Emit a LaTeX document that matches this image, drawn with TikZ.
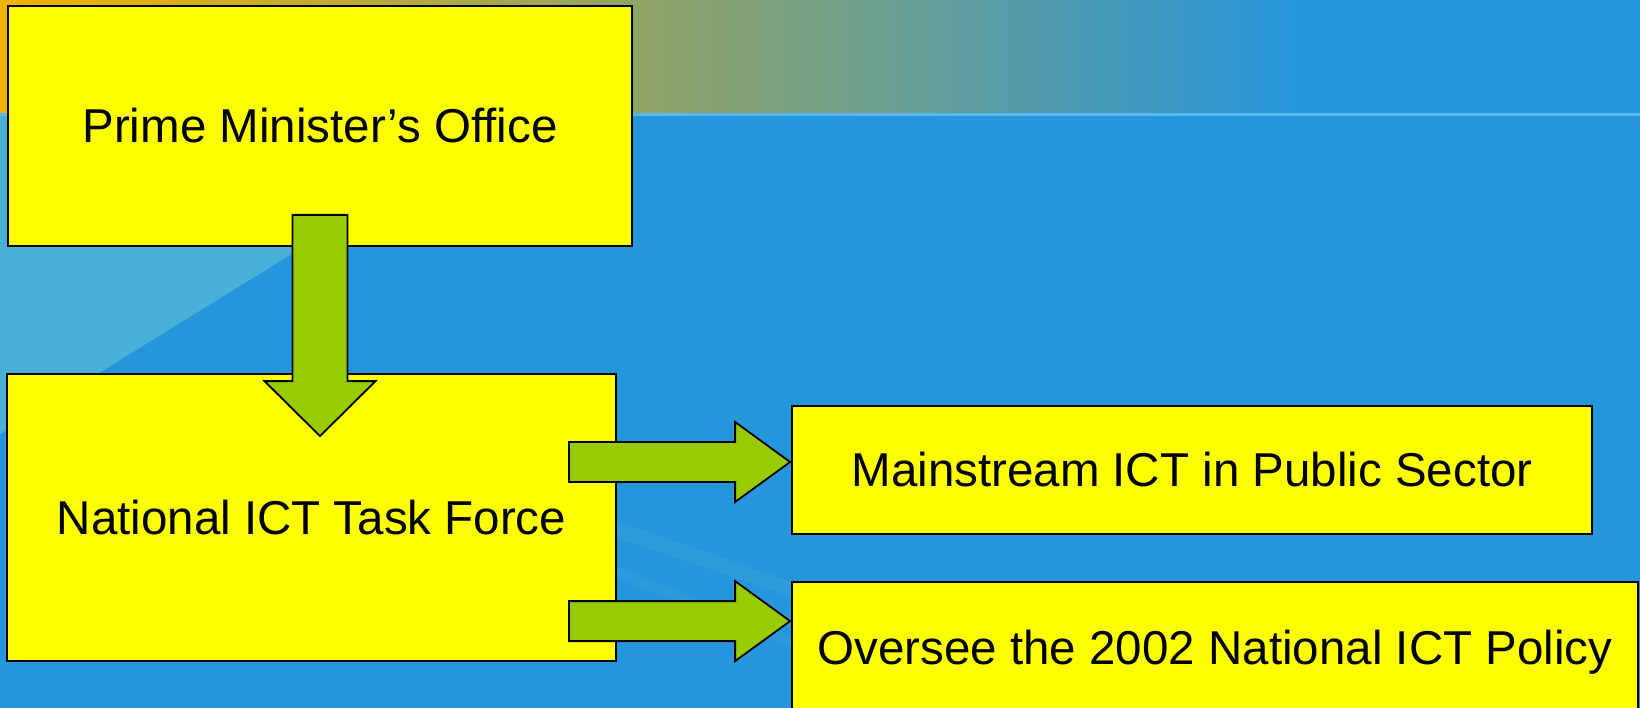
\documentclass[tikz,border=0pt]{standalone}
\usepackage{fontspec}
\setmainfont{Liberation Sans}
\usepackage{tikz}
\usetikzlibrary{calc, positioning}

\definecolor{bgblue}{RGB}{37,150,220}
\definecolor{bglight}{RGB}{74,176,216}
\definecolor{bandorange}{RGB}{240,178,0}
\definecolor{bandgreen}{RGB}{118,160,132}
\definecolor{bandline}{RGB}{90,182,240}
\definecolor{boxyellow}{RGB}{255,255,0}
\definecolor{arrowgreen}{RGB}{153,204,0}

\tikzset{
    box/.style={rectangle, draw=black, line width=1.8pt, fill=boxyellow, inner sep=0pt,
        font=\fontsize{47.5}{56}\selectfont, align=center},
    blockarrow/.style={draw=black, line width=1.8pt, fill=arrowgreen, line join=miter}
}

\begin{document}
\begin{tikzpicture}[x=1pt, y=-1pt]
    \useasboundingbox (0,0) rectangle (1640,708);
    \clip (0,0) rectangle (1640,708);

    % background
    \fill[bgblue] (0,0) rectangle (1640,708);
    \fill[bglight] (0,115) -- (517,115) -- (0,434) -- cycle;
    \fill[bglight, opacity=0.25] (600,515) -- (800,585) -- (800,600) -- (600,532) -- cycle;
    \fill[bglight, opacity=0.2] (600,560) -- (800,640) -- (800,650) -- (600,572) -- cycle;
    \shade[left color=bandorange, right color=bandgreen] (0,0) rectangle (820,113);
    \shade[left color=bandgreen, right color=bgblue] (820,0) rectangle (1300,113);
    \fill[bgblue] (1300,0) rectangle (1640,113);
    \fill[bandline] (0,113) rectangle (1640,116);

    % boxes
    \node[box, minimum width=624, minimum height=240] (pm) at (320,126) {Prime Minister’s Office};
    \node[box, minimum width=609, minimum height=287] (ntf) at (311.5,517.5) {National ICT Task Force};
    \node[box, minimum width=800, minimum height=128] (mps) at (1192,470) {Mainstream ICT in Public Sector};
    \node[box, minimum width=846, minimum height=140] (ovs) at (1215,652) {Oversee the 2002 National ICT Policy};

    % down arrow
    \coordinate (ds) at ($(pm.south)+(0,-32)$);
    \coordinate (de) at ($(ntf.north -| pm.south)+(0,63)$);
    \draw[blockarrow] ($(ds)+(-27.5,0)$) -- ($(ds)+(27.5,0)$) -- ($(de)+(27.5,-55)$)
        -- ($(de)+(55.5,-55)$) -- (de) -- ($(de)+(-55.5,-55)$)
        -- ($(de)+(-27.5,-55)$) -- cycle;

    % right arrows
    \coordinate (r1s) at ($(ntf.east |- mps.west)+(-48,-8)$);
    \coordinate (r1e) at ($(mps.west)+(-1,-8)$);
    \coordinate (r2s) at ($(ntf.east |- ovs.north west)+(-48,40)$);
    \coordinate (r2e) at ($(ovs.north west)+(-1,40)$);
    \foreach \s/\e in {r1s/r1e, r2s/r2e}
        \draw[blockarrow] ($(\s)+(0,-20)$) -- ($(\e)+(-55,-20)$) -- ($(\e)+(-55,-40)$)
            -- (\e) -- ($(\e)+(-55,40)$) -- ($(\e)+(-55,20)$)
            -- ($(\s)+(0,20)$) -- cycle;
\end{tikzpicture}
\end{document}
